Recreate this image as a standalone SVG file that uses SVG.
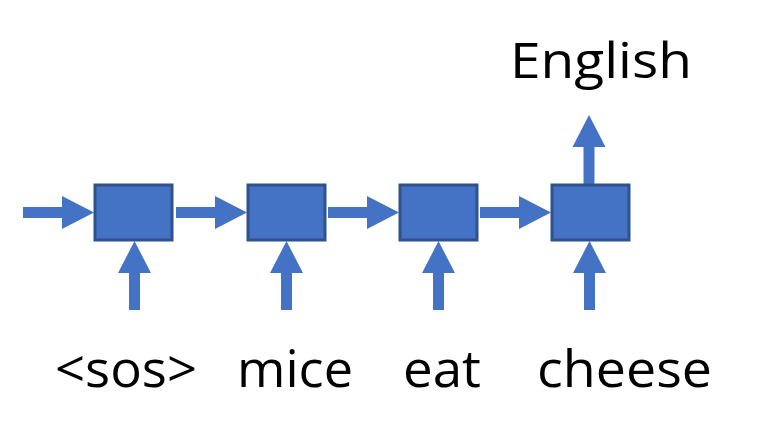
<svg xmlns="http://www.w3.org/2000/svg" width="771" height="430" viewBox="0 0 771 430">
<style>
.box{fill:#4472C4;stroke:#2F528F;stroke-width:3}
.arr{fill:#4472C4}
.lbl{font-family:"Open Sans","Noto Sans",sans-serif;font-size:52px;fill:#000}
</style>
<defs>
<polygon id="harrow" points="0,207 39,207 39,196 71,212.5 39,229 39,218 0,218"/>
<polygon id="uarrow" points="-5.5,310 -5.5,273 -16.5,273 0,241 16.5,273 5.5,273 5.5,310"/>
</defs>
<rect width="771" height="430" fill="#fff"/>
<g id="connectors">
<use href="#harrow" class="arr" x="23"/>
<use href="#harrow" class="arr" x="176"/>
<use href="#harrow" class="arr" x="328"/>
<use href="#harrow" class="arr" x="480"/>
<use href="#uarrow" class="arr" x="134.5"/>
<use href="#uarrow" class="arr" x="286.5"/>
<use href="#uarrow" class="arr" x="438.5"/>
<use href="#uarrow" class="arr" x="589.5"/>
<polygon class="arr" points="583.5,184 583.5,147 572.5,147 589,115 605.5,147 594.5,147 594.5,184"/>
</g>
<g id="node1"><rect class="box" x="95" y="185" width="77" height="55"/></g>
<g id="node2"><rect class="box" x="248" y="185" width="77" height="55"/></g>
<g id="node3"><rect class="box" x="400" y="185" width="77" height="55"/></g>
<g id="node4"><rect class="box" x="552" y="185" width="77" height="55"/></g>
<g id="labels">
<text class="lbl" x="55" y="387" textLength="142" lengthAdjust="spacingAndGlyphs">&lt;sos&gt;</text>
<text class="lbl" x="237" y="387" textLength="116" lengthAdjust="spacingAndGlyphs">mice</text>
<text class="lbl" x="403" y="387" textLength="78" lengthAdjust="spacingAndGlyphs">eat</text>
<text class="lbl" x="537" y="387" textLength="175" lengthAdjust="spacingAndGlyphs">cheese</text>
<text class="lbl" x="510" y="78" font-size="49" textLength="182" lengthAdjust="spacingAndGlyphs" style="font-size:49px">English</text>
</g>
</svg>
